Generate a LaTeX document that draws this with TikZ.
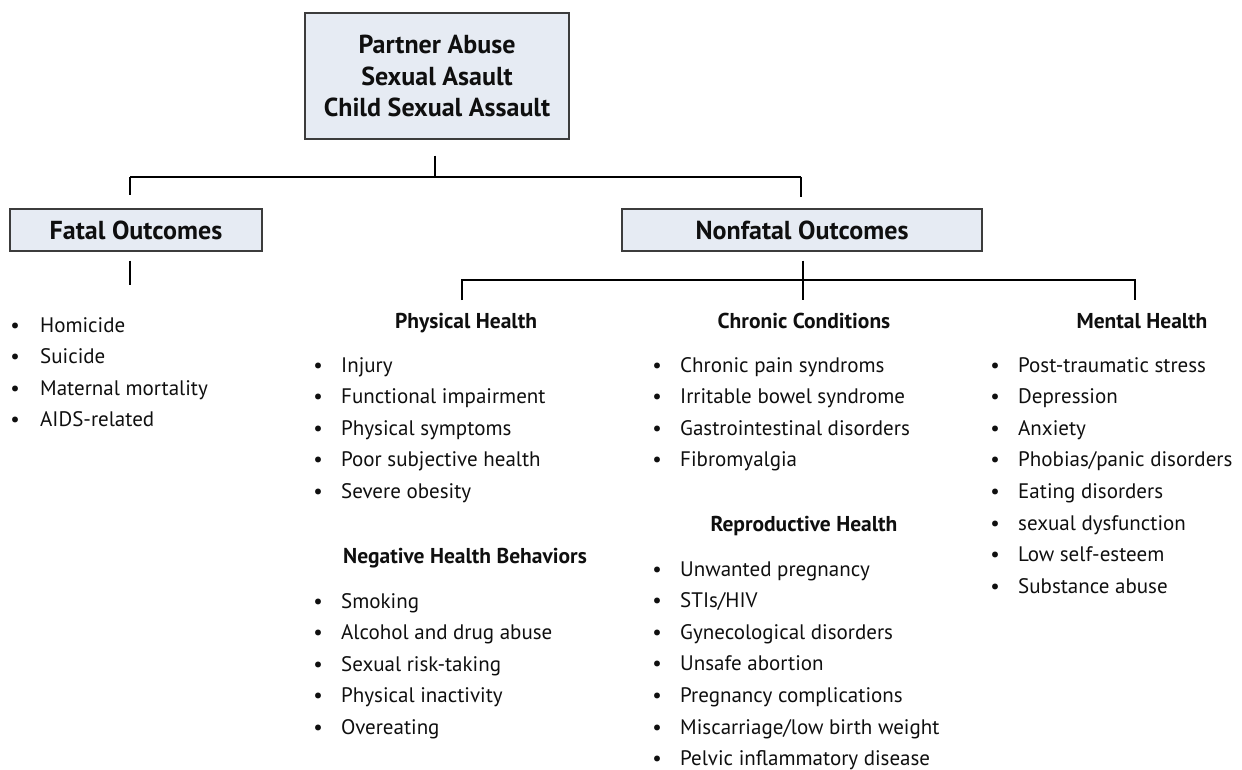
\documentclass[tikz,border=0pt]{standalone}
\usepackage{fontspec}
\setmainfont{PT Sans}
\begin{document}
\definecolor{boxfill}{RGB}{230,235,243}
\definecolor{boxline}{RGB}{60,60,60}
\definecolor{ink}{RGB}{15,15,15}
\tikzset{
  box/.style={draw=boxline, fill=boxfill, line width=1.2pt, inner sep=0pt,
    align=center, text=ink, font=\bfseries\fontsize{26}{31.5}\selectfont},
  conn/.style={draw=black, line width=1.2pt},
  bul/.style={anchor=base, inner sep=0pt, text=ink, font=\fontsize{21}{25}\selectfont},
  itm/.style={anchor=base west, inner sep=0pt, text=ink, font=\fontsize{21}{25}\selectfont},
  head/.style={anchor=base, inner sep=0pt, text=ink, font=\bfseries\fontsize{21.5}{25}\selectfont},
}
% #1 name prefix, #2 bullet x, #3 text x, #4 first baseline, #5 items
\newcommand\itemlist[5]{%
  \foreach \t [count=\i] in {#5} {
    \node[bul] (#1b\i) at (#2, {#4+(\i-1)*31.6}) {•};
    \node[itm] (#1\i) at (#3, {#4+(\i-1)*31.6}) {\t};
  }%
}
\begin{tikzpicture}[x=1pt, y=-1pt]
\useasboundingbox (0,0) rectangle (1242,770);

% boxes
\node[box, minimum width=264pt, minimum height=126pt] (top) at (437,76)
  {Partner Abuse\\Sexual Asault\\Child Sexual Assault};
\node[box, minimum width=252pt, minimum height=42pt] (fatal) at (136,230) {Fatal Outcomes};
\node[box, minimum width=360pt, minimum height=42pt] (nonfatal) at (802,230) {Nonfatal Outcomes};

% junction points
\coordinate (busA) at (435,177);
\coordinate (busL) at (130,177);
\coordinate (busR) at (801,177);
\coordinate (busB) at (803,280);
\coordinate (busP) at (462,280);
\coordinate (busM) at (1135,280);
\coordinate (tipP) at (462,300);
\coordinate (tipC) at (803,300);
\coordinate (tipM) at (1135,300);
\coordinate (tipF) at (130,285);

% connectors
\draw[conn] ([xshift=-2pt,yshift=-16pt]top.south) -- (busA);
\draw[conn] (busL) -- (busR);
\draw[conn] (busL) -- ([xshift=-6pt,yshift=13pt]fatal.north);
\draw[conn] (busR) -- ([xshift=-1pt,yshift=11pt]nonfatal.north);
\draw[conn] ([xshift=-6pt,yshift=-9pt]fatal.south) -- (tipF);
\draw[conn] ([xshift=1pt,yshift=-9pt]nonfatal.south) -- (tipC);
\draw[conn] (tipP) -- (busP) -- (busM) -- (tipM);

% fatal outcomes
\itemlist{f}{15}{40}{332}{Homicide,Suicide,Maternal mortality,AIDS-related}

% physical health
\node[head] (physH) at (466,328) {Physical Health};
\itemlist{p}{318}{341}{372}{Injury,Functional impairment,Physical symptoms,Poor subjective health,Severe obesity}
\node[head] (negH) at (465,563) {Negative Health Behaviors};
\itemlist{n}{318}{341}{608}{Smoking,Alcohol and drug abuse,Sexual risk-taking,Physical inactivity,Overeating}

% chronic conditions
\node[head] (chrH) at (804,328) {Chronic Conditions};
\itemlist{c}{657}{680}{372}{Chronic pain syndroms,Irritable bowel syndrome,Gastrointestinal disorders,Fibromyalgia}
\node[head] (repH) at (804,531) {Reproductive Health};
\itemlist{r}{657}{680}{576}{Unwanted pregnancy,STIs/HIV,Gynecological disorders,Unsafe abortion,Pregnancy complications,Miscarriage/low birth weight,Pelvic inflammatory disease}

% mental health
\node[head] (menH) at (1142,328) {Mental Health};
\itemlist{m}{995}{1018}{372}{Post-traumatic stress,Depression,Anxiety,Phobias/panic disorders,Eating disorders,sexual dysfunction,Low self-esteem,Substance abuse}
\end{tikzpicture}
\end{document}
